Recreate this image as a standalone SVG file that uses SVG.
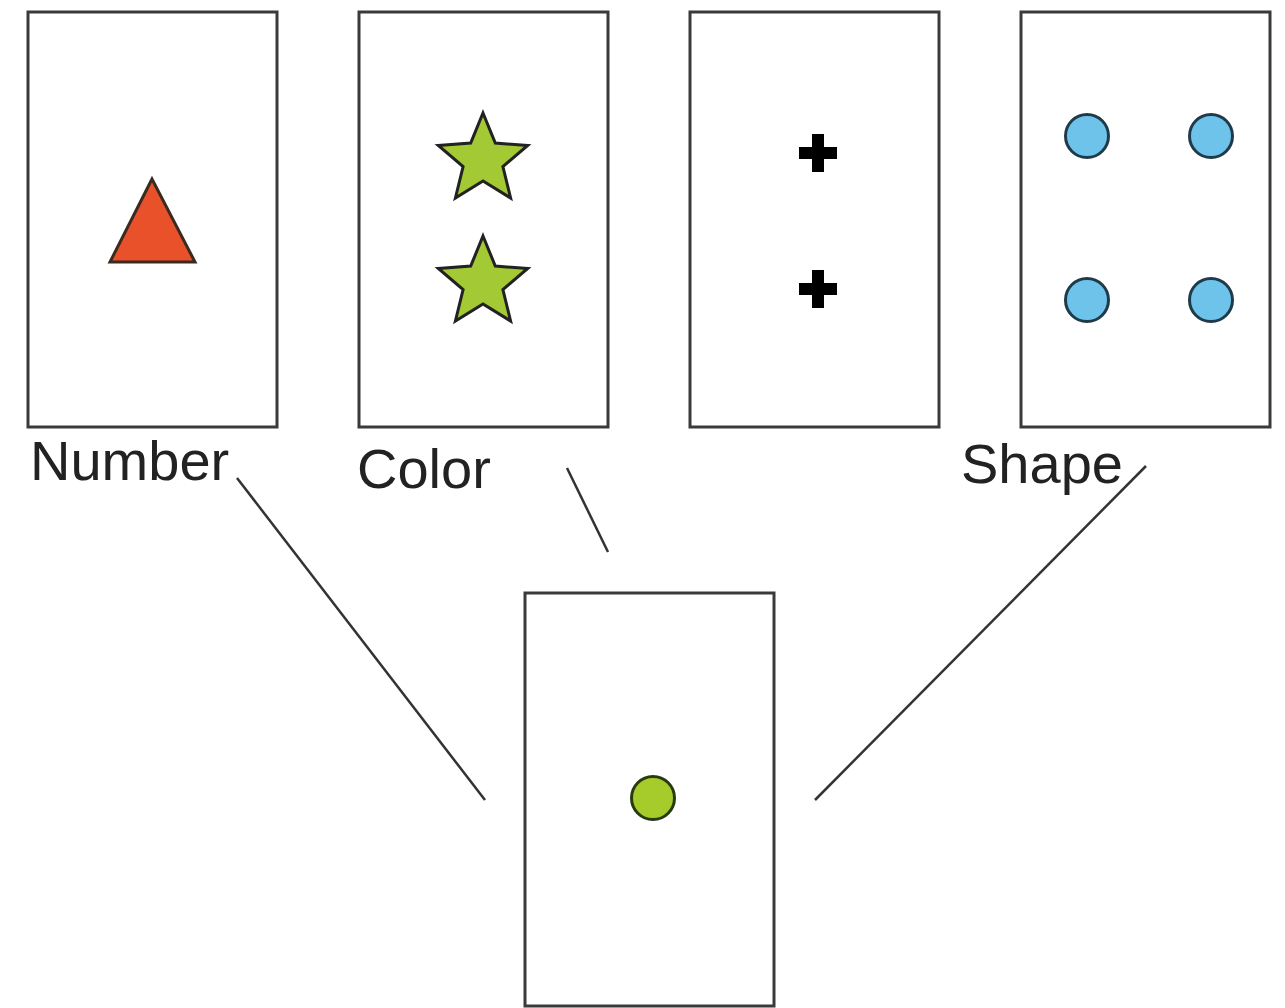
<svg xmlns="http://www.w3.org/2000/svg" width="1285" height="1008" viewBox="0 0 1285 1008">
<style>
.card{fill:#fff;stroke:#3a3a3a;stroke-width:3}
.lbl{font-family:"Liberation Sans",Arial,sans-serif;font-size:56px;fill:#222}
.conn{stroke:#333;stroke-width:2.5;fill:none}
.star{fill:#A3C934;stroke:#222;stroke-width:3;stroke-linejoin:miter}
.blue{fill:#6EC3EA;stroke:#1f3b4a;stroke-width:3}
.plus{fill:#000}
</style>
<defs>
<polygon id="star" points="0,-47 12.3,-16.9 44.7,-14.5 19.9,6.5 27.6,38 0,21 -27.6,38 -19.9,6.5 -44.7,-14.5 -12.3,-16.9"/>
<path id="plus" d="M-6,-19 H6 V-6 H19 V6 H6 V19 H-6 V6 H-19 V-6 H-6 Z"/>
</defs>
<rect width="1285" height="1008" fill="#fff"/>
<g id="connectors">
<line class="conn" x1="237" y1="478" x2="485" y2="800"/>
<line class="conn" x1="567" y1="468" x2="608" y2="552"/>
<line class="conn" x1="1146" y1="466" x2="815" y2="800"/>
</g>
<g id="card-number">
<rect class="card" x="28" y="12" width="249" height="415"/>
<polygon points="152,179 110,262 195,262" fill="#E8512A" stroke="#3a2a20" stroke-width="3" stroke-linejoin="miter"/>
<text class="lbl" x="30" y="480">Number</text>
</g>
<g id="card-color">
<rect class="card" x="359" y="12" width="249" height="415"/>
<use href="#star" class="star" x="483" y="160"/>
<use href="#star" class="star" x="483" y="283"/>
<text class="lbl" x="357" y="488">Color</text>
</g>
<g id="card-plus">
<rect class="card" x="690" y="12" width="249" height="415"/>
<use href="#plus" class="plus" x="818" y="153"/>
<use href="#plus" class="plus" x="818" y="289"/>
</g>
<g id="card-shape">
<rect class="card" x="1021" y="12" width="249" height="415"/>
<circle class="blue" cx="1087" cy="136" r="21.5"/>
<circle class="blue" cx="1211" cy="136" r="21.5"/>
<circle class="blue" cx="1087" cy="300" r="21.5"/>
<circle class="blue" cx="1211" cy="300" r="21.5"/>
<text class="lbl" x="961" y="483">Shape</text>
</g>
<g id="card-target">
<rect class="card" x="525" y="593" width="249" height="413"/>
<circle cx="653" cy="798" r="21.5" fill="#A5CC2B" stroke="#2a3a10" stroke-width="3"/>
</g>
</svg>
